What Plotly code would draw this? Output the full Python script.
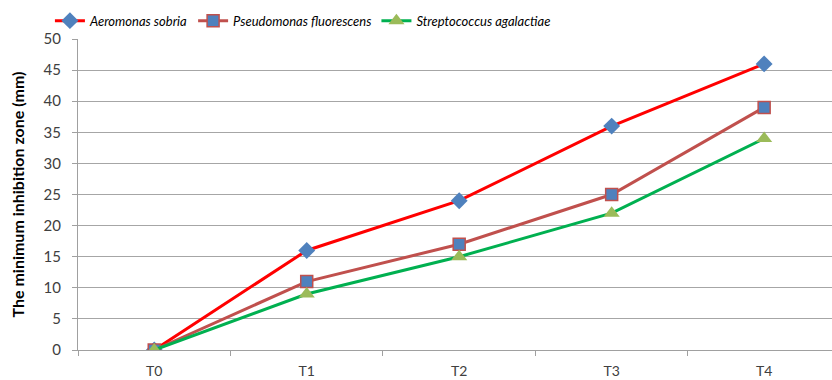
import plotly.graph_objects as go

categories = ["T0", "T1", "T2", "T3", "T4"]
aeromonas = [0, 16, 24, 36, 46]
pseudomonas = [0, 11, 17, 25, 39]
streptococcus = [0, 9, 15, 22, 34]
y_ticks = [0, 5, 10, 15, 20, 25, 30, 35, 40, 45, 50]

fig = go.Figure()
fig.add_trace(go.Scatter(
    x=categories, y=aeromonas, name="<i>Aeromonas sobria</i>", mode="lines+markers",
    line=dict(color="#ff0000", width=3),
    marker=dict(symbol="diamond", size=13, color="#4f81bd", line=dict(width=0))))
fig.add_trace(go.Scatter(
    x=categories, y=pseudomonas, name="<i>Pseudomonas fluorescens</i>", mode="lines+markers",
    line=dict(color="#c0504d", width=3),
    marker=dict(symbol="square", size=12, color="#4f81bd", line=dict(color="#c0504d", width=1.5))))
fig.add_trace(go.Scatter(
    x=categories, y=streptococcus, name="<i>Streptococcus agalactiae</i>", mode="lines+markers",
    line=dict(color="#00b050", width=3),
    marker=dict(symbol="triangle-up", size=14, color="#9bbb59", line=dict(width=0))))

fig.update_layout(
    width=832, height=380,
    margin=dict(l=78, r=0, t=39, b=30, autoexpand=False),
    paper_bgcolor="white", plot_bgcolor="white",
    font=dict(family="Lato, Open Sans, sans-serif", size=14, color="#404040"),
    legend=dict(orientation="h", xref="container", yref="container", x=0.06, y=0.985,
                xanchor="left", yanchor="top", bgcolor="rgba(0,0,0,0)",
                font=dict(family="Lato, sans-serif", size=13, color="#000000"),
                itemwidth=30, tracegroupgap=0),
    xaxis=dict(type="category", range=[-0.5, 4.445], showgrid=False,
               showline=True, linecolor="#a0a0a0", linewidth=1,
               ticks="outside", tickson="boundaries", ticklen=5, tickcolor="#a0a0a0",
               ticklabelstandoff=8,
               tickfont=dict(size=14, color="#404040")),
    yaxis=dict(range=[0, 50], tickvals=y_ticks, showgrid=True, gridcolor="#a6a6a6", gridwidth=1,
               showline=True, linecolor="#a0a0a0", linewidth=1,
               ticks="outside", ticklen=5, tickcolor="#a0a0a0", zeroline=False,
               ticklabelstandoff=8,
               tickfont=dict(size=15, color="#404040"),
               title=dict(text="<b>The minimum inhibition zone (mm)</b>",
                          font=dict(size=16, color="#000000"), standoff=14)),
)

fig.write_html("out.html")
